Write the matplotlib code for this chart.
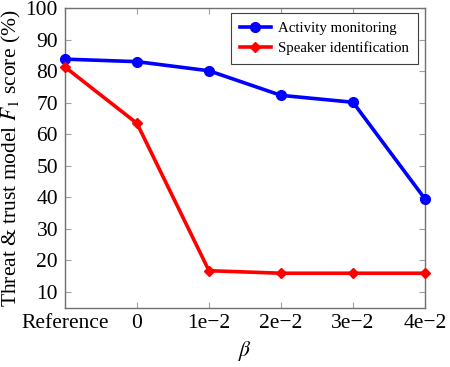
import matplotlib
matplotlib.use('Agg')
from matplotlib import pyplot as plt

# Values
labels = ['Reference', '0', '1e\u22122', '2e\u22122', '3e\u22122', '4e\u22122']
activity = [83.9, 83.1, 80.2, 72.4, 70.2, 39.5]
speaker = [81.4, 63.5, 16.7, 15.9, 15.9, 15.9]

plt.rcParams['font.family'] = 'serif'
plt.rcParams['font.serif'] = ['Liberation Serif', 'DejaVu Serif']
plt.rcParams['mathtext.fontset'] = 'stix'

fig = plt.figure(figsize=(4.5, 3.67), dpi=100)
ax = fig.add_axes([0.1444, 0.162, 0.80, 0.815])

x = list(range(len(labels)))
ax.plot(x, activity, color='#0000ff', lw=2.6, marker='o', ms=7,
        label='Activity monitoring', clip_on=False, zorder=3)
ax.plot(x, speaker, color='#ff0000', lw=2.6, marker='D', ms=5.5,
        label='Speaker identification', clip_on=False, zorder=3)

ax.set_xlim(0, 5)
ax.set_ylim(5, 100)
ax.set_xticks(x)
ax.set_xticklabels(labels)
ax.set_yticks(range(10, 101, 10))

for s in ax.spines.values():
    s.set_color('#707070')
    s.set_linewidth(1.0)
ax.tick_params(direction='in', top=True, right=True, length=4, width=0.8,
               color='#a0a0a0', labelsize=15.5, pad=5)

ax.set_xlabel(r'$\beta$', fontsize=15.5, labelpad=4)
ax.set_ylabel(r'Threat & trust model $F_1$ score (%)', fontsize=15.5, labelpad=2)

leg = ax.legend(loc='upper right', fontsize=10.7, fancybox=False, framealpha=1,
                edgecolor='#404040', handlelength=2.1, handletextpad=0.5,
                borderpad=0.6, labelspacing=0.4, borderaxespad=0,
                bbox_to_anchor=(0.981, 0.985))
leg.get_frame().set_linewidth(0.8)

fig.savefig('out.png', dpi=100)
